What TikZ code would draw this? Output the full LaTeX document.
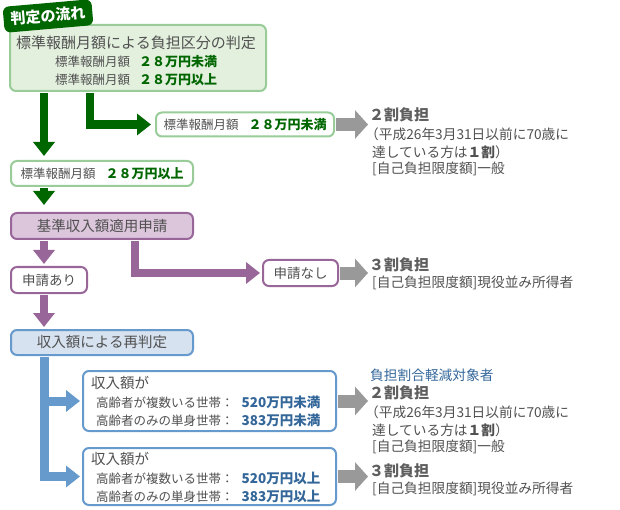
\documentclass[tikz,border=0pt]{standalone}
\usepackage{fontspec}
\setmainfont{Noto Sans CJK JP}
\usetikzlibrary{arrows.meta}
\definecolor{flowgreen}{HTML}{006600}
\definecolor{boxgreen}{HTML}{99CC99}
\definecolor{fillgreen}{HTML}{E3F0DE}
\definecolor{flowpurple}{HTML}{996699}
\definecolor{fillpurple}{HTML}{DCC6DC}
\definecolor{flowblue}{HTML}{6699CC}
\definecolor{fillblue}{HTML}{D6E2F0}
\definecolor{textblue}{HTML}{336699}
\definecolor{textgrey}{HTML}{505050}
\definecolor{headgrey}{HTML}{5E5E5E}
\definecolor{flowgrey}{HTML}{999999}
\newcommand{\fsz}[1]{\fontsize{#1}{#1}\selectfont}
\newcommand{\greenval}[1]{{\fsz{13}\bfseries\color{flowgreen}#1}}
\newcommand{\blueval}[1]{{\fsz{13.5}\bfseries\color{textblue}#1}}

\begin{document}
\begin{tikzpicture}[x=1pt,y=-1pt,inner sep=0pt,text=textgrey,
  box/.style={draw, rounded corners=6pt, line width=2pt, fill=white},
  gbox/.style={box, draw=boxgreen},
  pbox/.style={box, draw=flowpurple},
  bbox/.style={box, draw=flowblue},
  line/.style={anchor=west, font=\fsz{13.7}},
  head/.style={anchor=west, font=\fsz{15}\bfseries, text=headgrey},
  greenarrow/.style={draw=flowgreen, line width=8.5pt, -{Triangle[width=21pt,length=14pt]}, shorten <=1pt, shorten >=4pt},
  purplearrow/.style={greenarrow, draw=flowpurple, line width=8pt},
  bluearrow/.style={greenarrow, draw=flowblue, line width=9pt, shorten >=2pt},
  greyarrow/.style={draw=flowgrey, line width=13pt, -{Triangle[width=28pt,length=13pt]}, shorten <=1pt, shorten >=1pt}]
\useasboundingbox (0,0) rectangle (620,510);

% first step: standard monthly remuneration
\node[gbox, fill=fillgreen, minimum width=256pt, minimum height=66pt] (judge) at (138,58) {};
\node[anchor=west, font=\fsz{15}] (judgetitle) at (16,43) {標準報酬月額による負担区分の判定};
\node[anchor=west, font=\fsz{12.5}] (judgelow) at (55,62) {標準報酬月額\hspace{9pt}\greenval{２８万円未満}};
\node[anchor=west, font=\fsz{12.5}] (judgehigh) at (55,80) {標準報酬月額\hspace{9pt}\greenval{２８万円以上}};
\node[fill=flowgreen, text=white, font=\fsz{15}\bfseries, rounded corners=6pt, minimum width=89pt, minimum height=26pt, rotate=5] (flowtag) at (48,16) {判定の流れ};

\node[gbox, minimum width=178pt, minimum height=24pt, font=\fsz{12.5}] (low28) at (245,124.5) {標準報酬月額\hspace{10pt}\greenval{２８万円未満}};
\node[gbox, minimum width=182pt, minimum height=25pt, font=\fsz{12.5}] (high28) at (102,173.5) {標準報酬月額\hspace{10pt}\greenval{２８万円以上}};

% second step: application
\node[pbox, fill=fillpurple, minimum width=182pt, minimum height=26pt, font=\fsz{14.5}] (apply) at (102,226) {基準収入額適用申請};
\node[pbox, minimum width=76pt, minimum height=26pt, font=\fsz{13.5}] (yes) at (49,280) {申請あり};
\node[pbox, minimum width=75pt, minimum height=26pt, font=\fsz{13.5}] (no) at (300.5,273) {申請なし};

% third step: income
\node[bbox, fill=fillblue, minimum width=182pt, minimum height=25pt, font=\fsz{14.5}] (rejudge) at (102,342.5) {収入額による再判定};
\node[bbox, minimum width=253pt, minimum height=60pt] (inc1) at (209.5,401) {};
\node[bbox, minimum width=253pt, minimum height=57pt] (inc2) at (209.5,476.5) {};
\node[anchor=west, font=\fsz{14.5}] (inc1head) at (91,383) {収入額が};
\node[anchor=west, font=\fsz{12.5}] (inc1a) at (96,402) {高齢者が複数いる世帯：\hspace{8pt}\blueval{520万円未満}};
\node[anchor=west, font=\fsz{12.5}] (inc1b) at (96,420) {高齢者のみの単身世帯：\hspace{8pt}\blueval{383万円未満}};
\node[anchor=west, font=\fsz{14.5}] (inc2head) at (91,459) {収入額が};
\node[anchor=west, font=\fsz{12.5}] (inc2a) at (96,478) {高齢者が複数いる世帯：\hspace{8pt}\blueval{520万円以上}};
\node[anchor=west, font=\fsz{12.5}] (inc2b) at (96,496) {高齢者のみの単身世帯：\hspace{8pt}\blueval{383万円以上}};

% results
\node[head] (res1head) at (369,115) {２割負担};
\node[line] (res1a) at (365,134) {（平成26年3月31日以前に70歳に};
\node[line] (res1b) at (372,152) {達している方は\textbf{１割}）};
\node[line] (res1c) at (372,169) {[自己負担限度額]一般};
\node[head] (res2head) at (369,265) {３割負担};
\node[line] (res2a) at (372,283) {[自己負担限度額]現役並み所得者};
\node[line, text=textblue] (res3top) at (370,375) {負担割合軽減対象者};
\node[head] (res3head) at (369,393) {２割負担};
\node[line] (res3a) at (365,412) {（平成26年3月31日以前に70歳に};
\node[line] (res3b) at (372,430) {達している方は\textbf{１割}）};
\node[line] (res3c) at (372,447) {[自己負担限度額]一般};
\node[head] (res4head) at (369,471) {３割負担};
\node[line] (res4a) at (372,489) {[自己負担限度額]現役並み所得者};

% connectors
\coordinate (gleft) at (44,0);
\coordinate (gright) at (90,0);
\coordinate (pright) at (135,0);
\draw[greenarrow] (judge.south -| gleft) -- (high28.north -| gleft);
\draw[greenarrow] (judge.south -| gright) |- (low28.west);
\draw[greenarrow, shorten >=7pt] (high28.south -| gleft) -- (apply.north -| gleft);
\draw[purplearrow, shorten >=2pt] (apply.south -| gleft) -- (yes.north -| gleft);
\draw[purplearrow, shorten >=2pt] (apply.south -| pright) |- (no.west);
\draw[purplearrow, shorten >=2pt] (yes.south -| gleft) -- (rejudge.north -| gleft);
\draw[bluearrow] (rejudge.south -| gleft) |- (inc1.west);
\draw[bluearrow] (rejudge.south -| gleft) |- (inc2.west);
\draw[greyarrow] (low28.east) -- (low28.east -| res1head.west);
\draw[greyarrow] (no.east) -- (no.east -| res2head.west);
\draw[greyarrow] (inc1.east) -- (inc1.east -| res3head.west);
\draw[greyarrow] (inc2.east) -- (inc2.east -| res4head.west);
\end{tikzpicture}
\end{document}
